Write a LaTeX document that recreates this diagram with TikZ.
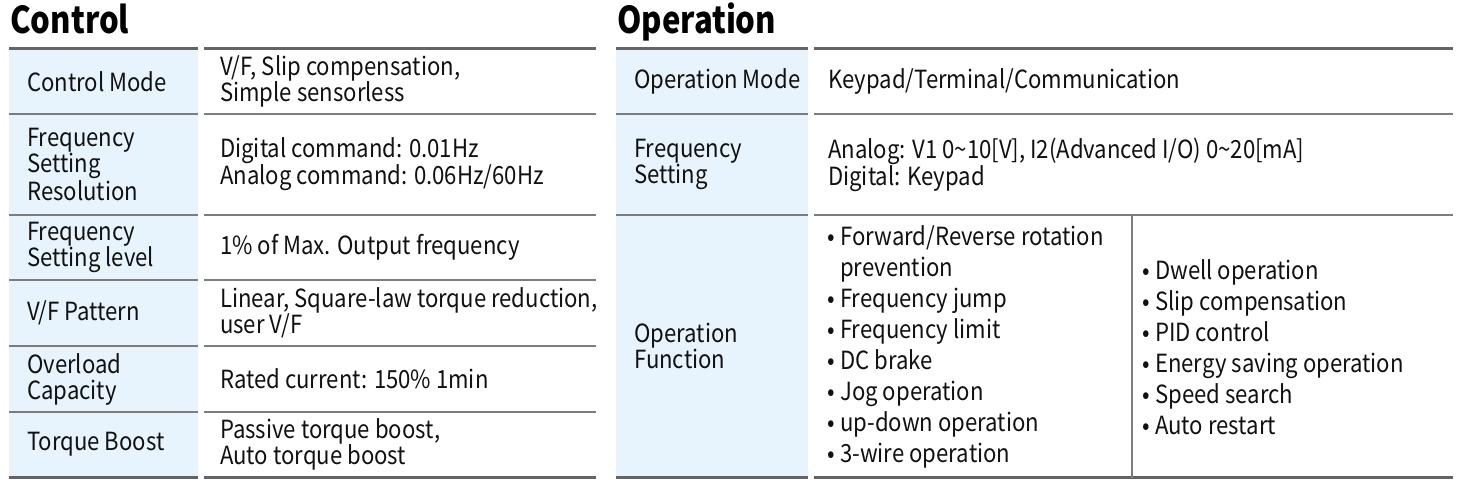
\documentclass[tikz,border=0pt]{standalone}
\usepackage{fontspec}
\setmainfont{Noto Sans CJK KR}[FakeStretch=0.885]
\newfontfamily\hfont{Noto Sans CJK KR}[FakeStretch=0.84]
\definecolor{labfill}{RGB}{231,244,253}
\definecolor{rulethick}{RGB}{100,100,100}
\definecolor{rulethin}{RGB}{125,125,125}
\definecolor{txt}{RGB}{17,17,17}
\newcommand\bodyfont{\fontsize{25}{26}\selectfont}
\newcommand\listfont{\fontsize{25}{31}\selectfont}
\newcommand\headfont{\hfont\fontsize{37}{40}\selectfont\bfseries}
\newcommand\bul{\makebox[0.52em][l]{•}}
\newcommand\bulsp{\hspace*{0.52em}}
\newcommand\tld{\char"7E\relax}
\begin{document}
\begin{tikzpicture}[x=1pt,y=-1pt,
  cell/.style={anchor=west,inner sep=0pt,align=left,font=\bodyfont,text=txt},
  listcell/.style={anchor=west,inner sep=0pt,align=left,font=\listfont,text=txt},
  head/.style={anchor=base west,inner sep=0pt,font=\headfont,text=black},
  thickrule/.style={draw=rulethick,line width=3pt},
  thinrule/.style={draw=rulethin,line width=1.4pt}]
\fill[white] (0,0) rectangle (1470,488);
\useasboundingbox (0,0) rectangle (1470,488);
% label backgrounds
\fill[labfill] (9,48.5) rectangle (198,477.5);
\fill[labfill] (616,48.5) rectangle (808,477.5);
% headings
\node[head] (hctl) at (10,33) {Control};
\node[head] (hop) at (617,33) {Operation};
% left table rules
\foreach \y in {114,215,280,346,412}{
  \draw[thinrule] (9,\y) -- (198,\y);
  \draw[thinrule] (204,\y) -- (596,\y);
}
\foreach \y in {48.5,477.5}{
  \draw[thickrule] (9,\y) -- (198,\y);
  \draw[thickrule] (204,\y) -- (596,\y);
}
% right table rules
\foreach \y in {114,215}{
  \draw[thinrule] (616,\y) -- (808,\y);
  \draw[thinrule] (814,\y) -- (1453,\y);
}
\foreach \y in {48.5,477.5}{
  \draw[thickrule] (616,\y) -- (808,\y);
  \draw[thickrule] (814,\y) -- (1453,\y);
}
\draw[thinrule] (1132,215) -- (1132,477.5);
% left labels
\node[cell] (l1) at (27,81.5) {Control Mode};
\node[cell] (l2) at (27,164.5) {Frequency\\Setting\\Resolution};
\node[cell] (l3) at (27,247.5) {Frequency\\Setting level};
\node[cell] (l4) at (27,313) {V/F Pattern};
\node[cell] (l5) at (27,379) {Overload\\Capacity};
\node[cell] (l6) at (27,444.5) {Torque Boost};
% left contents
\node[cell] (c1) at (220,81.5) {V/F, Slip compensation,\\Simple sensorless};
\node[cell] (c2) at (220,164.5) {Digital command: 0.01Hz\\Analog command: 0.06Hz/60Hz};
\node[cell] (c3) at (220,247.5) {1\% of Max. Output frequency};
\node[cell] (c4) at (220,313) {Linear, Square-law torque reduction,\\user V/F};
\node[cell] (c5) at (220,379) {Rated current: 150\% 1min};
\node[cell] (c6) at (220,444.5) {Passive torque boost,\\Auto torque boost};
% right labels
\node[cell] (r1) at (634,81.5) {Operation Mode};
\node[cell] (r2) at (634,164.5) {Frequency\\Setting};
\node[cell] (r3) at (634,346) {Operation\\Function};
% right contents
\node[cell] (d1) at (828,81.5) {Keypad/Terminal/Communication};
\node[cell] (d2) at (828,164.5) {Analog: V1 0\tld10[V], I2(Advanced I/O) 0\tld20[mA]\\Digital: Keypad};
\node[listcell] (d3) at (827,346.5) {\bul Forward/Reverse rotation\\\bulsp prevention\\\bul Frequency jump\\\bul Frequency limit\\\bul DC brake\\\bul Jog operation\\\bul up-down operation\\\bul 3-wire operation};
\node[listcell] (d4) at (1142,347) {\bul Dwell operation\\\bul Slip compensation\\\bul PID control\\\bul Energy saving operation\\\bul Speed search\\\bul Auto restart};
\end{tikzpicture}
\end{document}
